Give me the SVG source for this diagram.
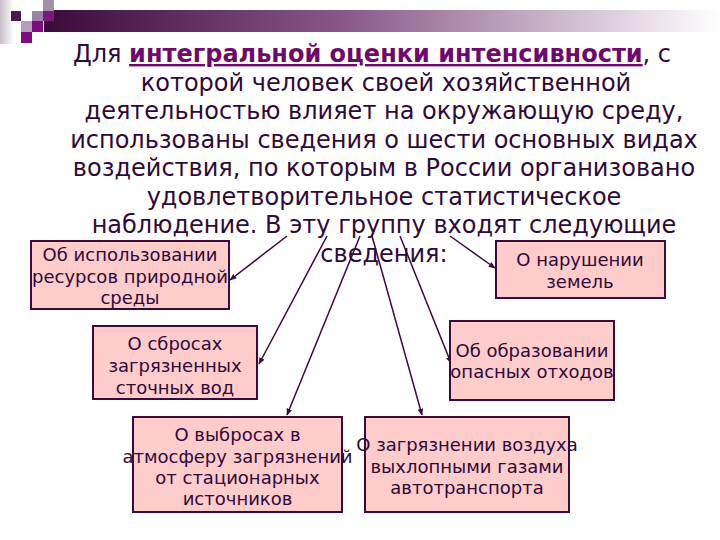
<svg xmlns="http://www.w3.org/2000/svg" width="720" height="540" viewBox="0 0 720 540">
<defs>
<linearGradient id="bar" x1="0" y1="0" x2="1" y2="0">
<stop offset="0" stop-color="#3a0a3a"/>
<stop offset="0.45" stop-color="#8a5a8a"/>
<stop offset="1" stop-color="#ffffff"/>
</linearGradient>
<linearGradient id="side" x1="0" y1="0" x2="1" y2="0">
<stop offset="0" stop-color="#c8c0c8"/>
<stop offset="1" stop-color="#ffffff"/>
</linearGradient>
<marker id="ah" viewBox="0 0 10 10" refX="9" refY="5" markerWidth="7" markerHeight="7" markerUnits="userSpaceOnUse" orient="auto">
<path d="M0,1 L10,5 L0,9 Z" fill="#3a0a3a"/>
</marker>
<style>
.title{font-family:"DejaVu Sans",sans-serif;font-size:24px;fill:#2e0a38;text-anchor:middle}
.hl{font-weight:bold;fill:#6e0a6e;text-decoration:underline}
.box rect{fill:#ffcccc;stroke:#3a0a3a;stroke-width:2}
.box text{font-family:"DejaVu Sans",sans-serif;font-size:18px;fill:#2e0a38;text-anchor:middle}
.conn line{stroke:#3a0a3a;stroke-width:1.5;marker-end:url(#ah)}
</style>
</defs>
<rect width="720" height="540" fill="#ffffff"/>
<g id="decor">
<rect x="0" y="0" width="14" height="44" fill="url(#side)"/>
<rect x="44" y="10" width="676" height="22" fill="url(#bar)"/>
<rect x="43" y="0" width="11" height="11" fill="#a090a8"/>
<rect x="11" y="11" width="10" height="10" fill="#4a1a50"/>
<rect x="32" y="11" width="11" height="10" fill="#a080a8"/>
<rect x="43" y="11" width="11" height="10" fill="#7a1a7a"/>
<rect x="21" y="21" width="11" height="11" fill="#b0a0b8"/>
<rect x="32" y="21" width="11" height="11" fill="#800a80"/>
<rect x="21" y="32" width="11" height="11" fill="#800a80"/>
</g>
<g id="title">
<text class="title" x="372" y="62">Для <tspan class="hl">интегральной оценки интенсивности</tspan>, с</text>
<text class="title" x="386" y="91">которой человек своей хозяйственной</text>
<text class="title" x="384" y="119">деятельностью влияет на окружающую среду,</text>
<text class="title" x="384" y="148">использованы сведения о шести основных видах</text>
<text class="title" x="384" y="176">воздействия, по которым в России организовано</text>
<text class="title" x="384" y="205">удовлетворительное статистическое</text>
<text class="title" x="384" y="233">наблюдение. В эту группу входят следующие</text>
<text class="title" x="384" y="262">сведения:</text>
</g>
<g id="connectors" class="conn">
<line x1="287" y1="236" x2="230" y2="280"/>
<line x1="327" y1="236" x2="259" y2="364"/>
<line x1="360" y1="236" x2="287" y2="415"/>
<line x1="372" y1="236" x2="422" y2="415"/>
<line x1="400" y1="236" x2="451" y2="363"/>
<line x1="450" y1="236" x2="495" y2="268"/>
</g>
<g id="n1" class="box">
<rect x="31" y="241" width="198" height="68"/>
<text x="130" y="261">Об использовании</text>
<text x="130" y="283">ресурсов природной</text>
<text x="130" y="304">среды</text>
</g>
<g id="n2" class="box">
<rect x="496" y="241" width="169" height="57"/>
<text x="580" y="266">О нарушении</text>
<text x="580" y="288">земель</text>
</g>
<g id="n3" class="box">
<rect x="93" y="326" width="164" height="73"/>
<text x="175" y="350">О сбросах</text>
<text x="175" y="372">загрязненных</text>
<text x="175" y="394">сточных вод</text>
</g>
<g id="n4" class="box">
<rect x="450" y="321" width="164" height="79"/>
<text x="532" y="357">Об образовании</text>
<text x="532" y="378">опасных отходов</text>
</g>
<g id="n5" class="box">
<rect x="133" y="417" width="209" height="95"/>
<text x="237.5" y="441">О выбросах в</text>
<text x="237.5" y="463">атмосферу загрязнений</text>
<text x="237.5" y="484">от стационарных</text>
<text x="237.5" y="505">источников</text>
</g>
<g id="n6" class="box">
<rect x="365" y="417" width="204" height="95"/>
<text x="467" y="451">О загрязнении воздуха</text>
<text x="467" y="473">выхлопными газами</text>
<text x="467" y="494">автотранспорта</text>
</g>
</svg>
